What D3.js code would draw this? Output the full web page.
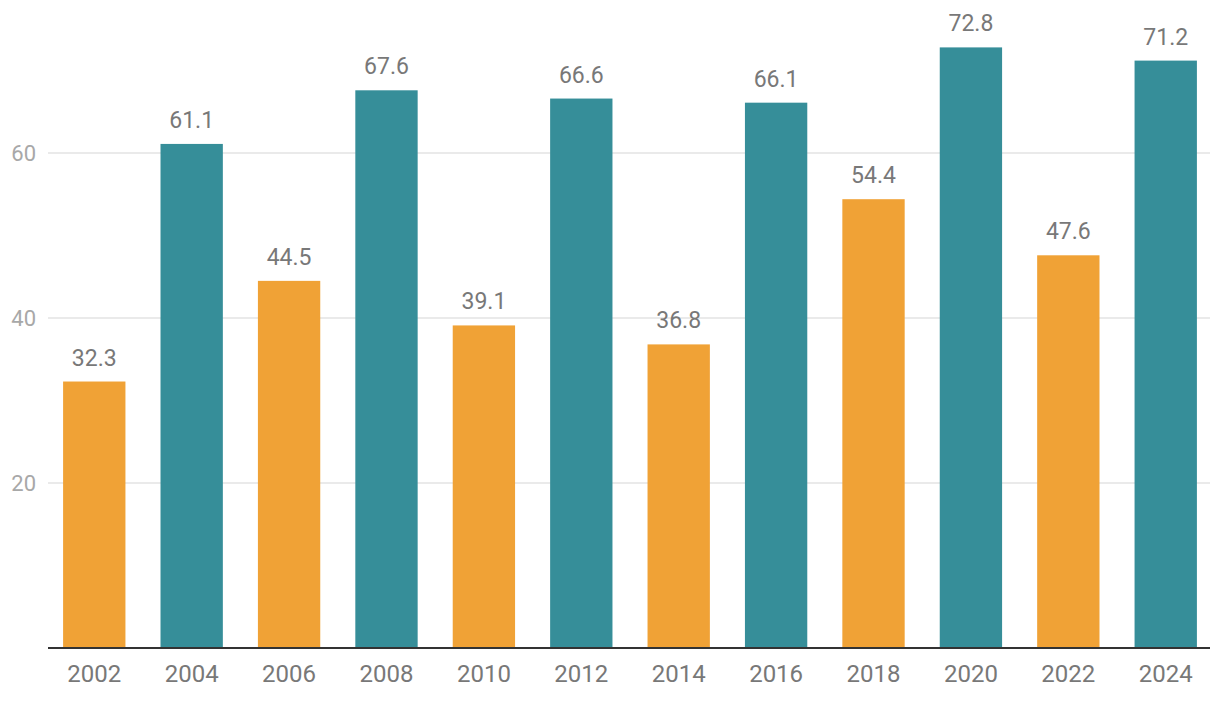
<!DOCTYPE html>
<html>
<head>
    <meta charset="utf-8">
    <script src="https://d3js.org/d3.v7.min.js"></script>
    <style>
        body { margin: 0; background: #fff; }
        text { font-family: Roboto, sans-serif; }
    </style>
</head>
<body>
<svg id="chart" width="1220" height="704"></svg>
<script>
    // data
    var years  = ["2002","2004","2006","2008","2010","2012","2014","2016","2018","2020","2022","2024"];
    var values = [32.3, 61.1, 44.5, 67.6, 39.1, 66.6, 36.8, 66.1, 54.4, 72.8, 47.6, 71.2];
    var kinds  = ["midterm","presidential","midterm","presidential","midterm","presidential",
                  "midterm","presidential","midterm","presidential","midterm","presidential"];
    var yTicks = [20, 40, 60];

    var svg = d3.select("#chart");

    var x = d3.scaleBand()
        .domain(years)
        .range([48, 1212])
        .paddingInner(0.36)
        .paddingOuter(0.155);

    var y = d3.scaleLinear()
        .domain([0, 60])
        .range([648, 153]);

    var color = d3.scaleOrdinal()
        .domain(["midterm", "presidential"])
        .range(["#f0a236", "#368e99"]);

    // gridlines
    svg.append("g").selectAll("line")
        .data(yTicks)
        .enter().append("line")
        .attr("x1", 48).attr("x2", 1210)
        .attr("y1", d => y(d)).attr("y2", d => y(d))
        .attr("stroke", "#e3e3e3")
        .attr("stroke-width", 1.5);

    // y labels
    svg.append("g").selectAll("text")
        .data(yTicks)
        .enter().append("text")
        .attr("x", 36)
        .attr("y", d => y(d))
        .attr("dy", "0.36em")
        .attr("text-anchor", "end")
        .attr("font-size", 22)
        .attr("fill", "#a8a8a8")
        .text(d => d);

    // bars
    var bars = svg.append("g").selectAll("g")
        .data(values)
        .enter().append("g");

    bars.append("rect")
        .attr("x", (d, i) => x(years[i]))
        .attr("y", d => y(d))
        .attr("width", x.bandwidth())
        .attr("height", d => y(0) - y(d))
        .attr("fill", (d, i) => color(kinds[i]));

    bars.append("text")
        .attr("x", (d, i) => x(years[i]) + x.bandwidth() / 2)
        .attr("y", d => y(d) - 16)
        .attr("text-anchor", "middle")
        .attr("font-size", 23)
        .attr("fill", "#787878")
        .text(d => d.toFixed(1));

    // x axis
    var xAxis = svg.append("g")
        .attr("transform", "translate(0," + y(0) + ")")
        .call(d3.axisBottom(x).tickSize(0).tickPadding(17));
    xAxis.select(".domain")
        .attr("d", "M48,0H1210")
        .attr("stroke", "#333")
        .attr("stroke-width", 2);
    xAxis.selectAll("text")
        .attr("font-family", "Roboto, sans-serif")
        .attr("font-size", 24)
        .attr("fill", "#787878");
</script>
</body>
</html>
